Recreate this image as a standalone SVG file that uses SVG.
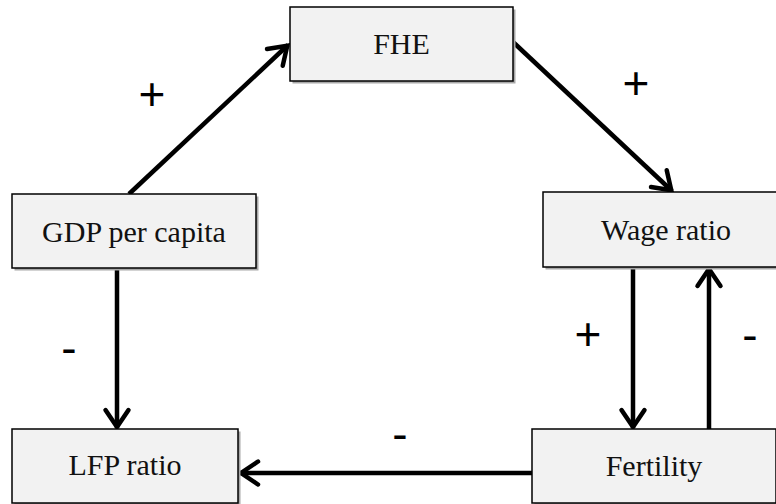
<svg xmlns="http://www.w3.org/2000/svg" width="776" height="504" viewBox="0 0 776 504">
<style>
.box{fill:#f2f2f2;stroke:#000;stroke-width:1.5}
.shadow{fill:#a8a8a8}
.lbl{font-family:"Liberation Serif","Times New Roman",serif;font-size:30px;fill:#111;text-anchor:middle}
.sign{font-family:"Liberation Sans",Arial,sans-serif;font-size:46px;fill:#000;text-anchor:middle}
.edge{fill:none;stroke:#000;stroke-width:4.5;marker-end:url(#arr)}
</style>
<defs>
<marker id="arr" markerUnits="userSpaceOnUse" markerWidth="30" markerHeight="30" viewBox="-22 -15 26 30" refX="0" refY="0" orient="auto" overflow="visible">
<path d="M-18,-11.5 L-1,0 L-18,11.5" fill="none" stroke="#000" stroke-width="4.5" stroke-linecap="round" stroke-linejoin="miter"/>
</marker>
</defs>
<rect width="776" height="504" fill="#fff"/>
<g id="connectors">
<line class="edge" x1="129" y1="194" x2="288" y2="45"/>
<line class="edge" x1="513" y1="42" x2="672" y2="191"/>
<line class="edge" x1="117" y1="268" x2="117" y2="428"/>
<line class="edge" x1="633" y1="267" x2="633" y2="428"/>
<line class="edge" x1="709" y1="429" x2="709" y2="268"/>
<line class="edge" x1="532" y1="473" x2="240" y2="473"/>
</g>
<g id="signs">
<text class="sign" x="152" y="110">+</text>
<text class="sign" x="636" y="99">+</text>
<text class="sign" x="69" y="364">-</text>
<text class="sign" x="588" y="350">+</text>
<text class="sign" x="750" y="351">-</text>
<text class="sign" x="400" y="450">-</text>
</g>
<g id="node-fhe">
<rect class="shadow" x="292.5" y="9.5" width="223" height="74"/>
<rect class="box" x="290" y="7" width="223" height="74"/>
<text class="lbl" x="401.5" y="54">FHE</text>
</g>
<g id="node-gdp">
<rect class="shadow" x="14.5" y="196.5" width="244" height="74"/>
<rect class="box" x="12" y="194" width="244" height="74"/>
<text class="lbl" x="134" y="242">GDP per capita</text>
</g>
<g id="node-wage">
<rect class="shadow" x="545.5" y="194.5" width="245" height="75"/>
<rect class="box" x="543" y="192" width="245" height="75"/>
<text class="lbl" x="666" y="240">Wage ratio</text>
</g>
<g id="node-lfp">
<rect class="shadow" x="14.5" y="431.5" width="226" height="74"/>
<rect class="box" x="12" y="429" width="226" height="74"/>
<text class="lbl" x="125" y="475">LFP ratio</text>
</g>
<g id="node-fertility">
<rect class="shadow" x="534.5" y="431.5" width="244" height="74"/>
<rect class="box" x="532" y="429" width="244" height="74"/>
<text class="lbl" x="654" y="476">Fertility</text>
</g>
</svg>
